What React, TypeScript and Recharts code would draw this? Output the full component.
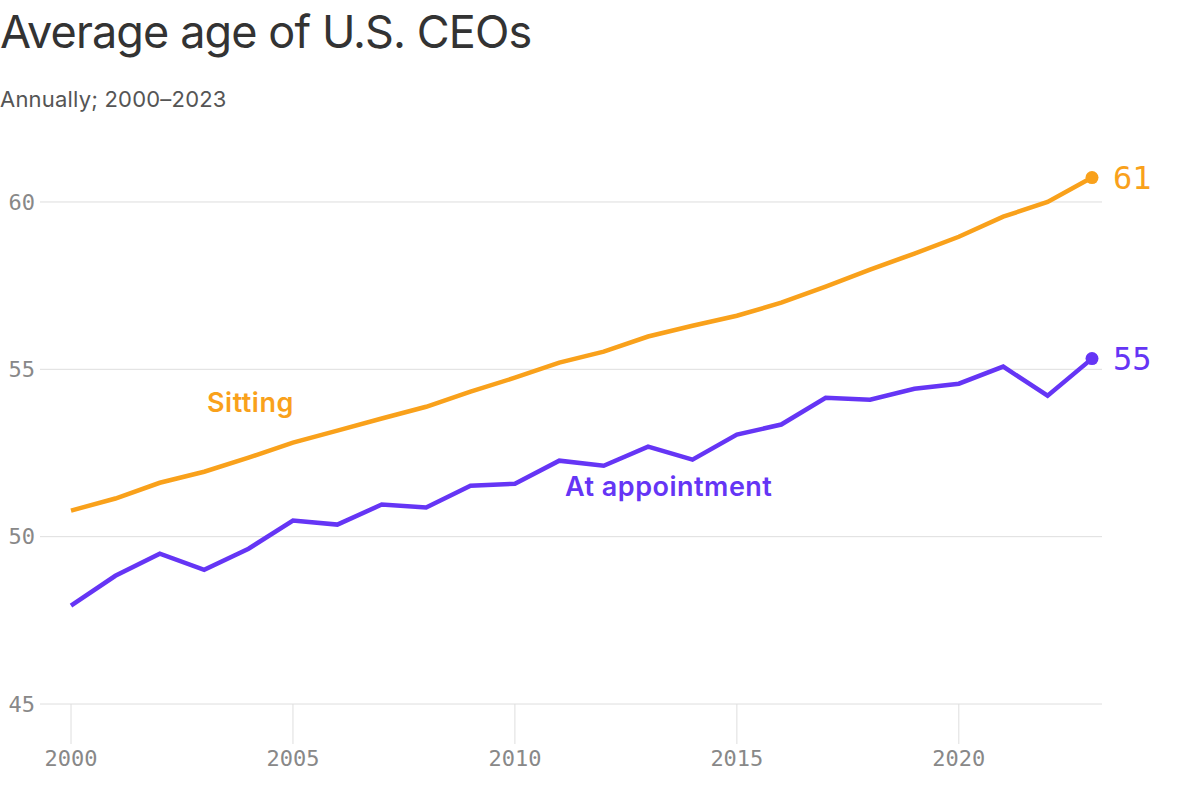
import React from 'react';
import { LineChart, Line, XAxis, YAxis, ReferenceLine } from 'recharts';

const years = [2000, 2001, 2002, 2003, 2004, 2005, 2006, 2007, 2008, 2009, 2010, 2011, 2012, 2013, 2014, 2015, 2016, 2017, 2018, 2019, 2020, 2021, 2022, 2023];
const sitting = [50.78, 51.14, 51.61, 51.94, 52.36, 52.81, 53.17, 53.53, 53.88, 54.33, 54.75, 55.2, 55.53, 55.98, 56.3, 56.6, 56.99, 57.47, 57.98, 58.46, 58.96, 59.56, 60.0, 60.73];
const atAppointment = [47.94, 48.83, 49.49, 49.01, 49.64, 50.48, 50.36, 50.96, 50.87, 51.52, 51.58, 52.27, 52.12, 52.69, 52.3, 53.05, 53.35, 54.15, 54.09, 54.42, 54.57, 55.08, 54.21, 55.32];
const xTicks = [2000, 2005, 2010, 2015, 2020];
const yTicks = [45, 50, 55, 60];
const endLabels = { sitting: '61', atAppointment: '55' };

const ORANGE = '#F9A11B';
const PURPLE = '#6535F5';
const GRID = '#dedede';
const MONO = '"DejaVu Sans Mono", "Liberation Mono", monospace';
const SANS = 'Inter, "Noto Sans", sans-serif';

const data = years.map((year, i) => ({
  year,
  sitting: sitting[i],
  atAppointment: atAppointment[i],
}));

const lastIndex = data.length - 1;

const endDot = (color: string) => (props: any) => {
  if (props.index !== lastIndex) return <g key={props.index} />;
  return <circle key={props.index} cx={props.cx} cy={props.cy} r={6.5} fill={color} />;
};

const endLabel = (color: string, text: string) => (props: any) => {
  if (props.index !== lastIndex) return <g key={props.index} />;
  return (
    <text
      key={props.index}
      x={props.x + 21}
      y={props.y}
      dy="0.36em"
      fill={color}
      fontFamily={MONO}
      fontSize={32}
    >
      {text}
    </text>
  );
};

export default function App() {
  return (
    <div style={{ position: 'absolute', left: 0, top: 0, width: 1200, height: 812, background: '#fff' }}>
      <div style={{ position: 'absolute', left: 0, top: 4, fontFamily: SANS, fontSize: 45, color: '#333', letterSpacing: -0.9, whiteSpace: 'nowrap' }}>
        Average age of U.S. CEOs
      </div>
      <div style={{ position: 'absolute', left: 0, top: 86, fontFamily: SANS, fontSize: 22, color: '#555', whiteSpace: 'nowrap', letterSpacing: 0.2 }}>
        Annually; 2000–2023
      </div>
      <div style={{ position: 'absolute', left: 207, top: 386, fontFamily: SANS, fontSize: 27, fontWeight: 600, color: ORANGE, whiteSpace: 'nowrap', letterSpacing: 0.5 }}>
        Sitting
      </div>
      <div style={{ position: 'absolute', left: 565, top: 470, fontFamily: SANS, fontSize: 27, fontWeight: 600, color: PURPLE, whiteSpace: 'nowrap', letterSpacing: 0.5 }}>
        At appointment
      </div>
      <div style={{ position: 'absolute', left: 0, top: 0 }}>
        <LineChart width={1200} height={812} data={data} margin={{ top: 168.5, right: 98, bottom: 38, left: 0 }}>
          {yTicks.map((t) => (
            <ReferenceLine key={t} y={t} stroke={GRID} strokeWidth={1} />
          ))}
          <XAxis
            dataKey="year"
            type="number"
            domain={[2000, 2023]}
            ticks={xTicks}
            padding={{ left: 31, right: 10 }}
            axisLine={false}
            tickLine={{ stroke: GRID }}
            tickSize={40}
            tickMargin={6}
            height={70}
            tick={{ fill: '#888', fontFamily: MONO, fontSize: 22 }}
          />
          <YAxis
            domain={[45, 61]}
            ticks={yTicks}
            width={40}
            axisLine={false}
            tickLine={false}
            tickSize={0}
            tickMargin={5}
            tick={{ fill: '#888', fontFamily: MONO, fontSize: 22 }}
          />
          <Line
            dataKey="sitting"
            stroke={ORANGE}
            strokeWidth={4.5}
            dot={endDot(ORANGE)}
            activeDot={false}
            label={endLabel(ORANGE, endLabels.sitting)}
            isAnimationActive={false}
          />
          <Line
            dataKey="atAppointment"
            stroke={PURPLE}
            strokeWidth={4.5}
            dot={endDot(PURPLE)}
            activeDot={false}
            label={endLabel(PURPLE, endLabels.atAppointment)}
            isAnimationActive={false}
          />
        </LineChart>
      </div>
    </div>
  );
}
